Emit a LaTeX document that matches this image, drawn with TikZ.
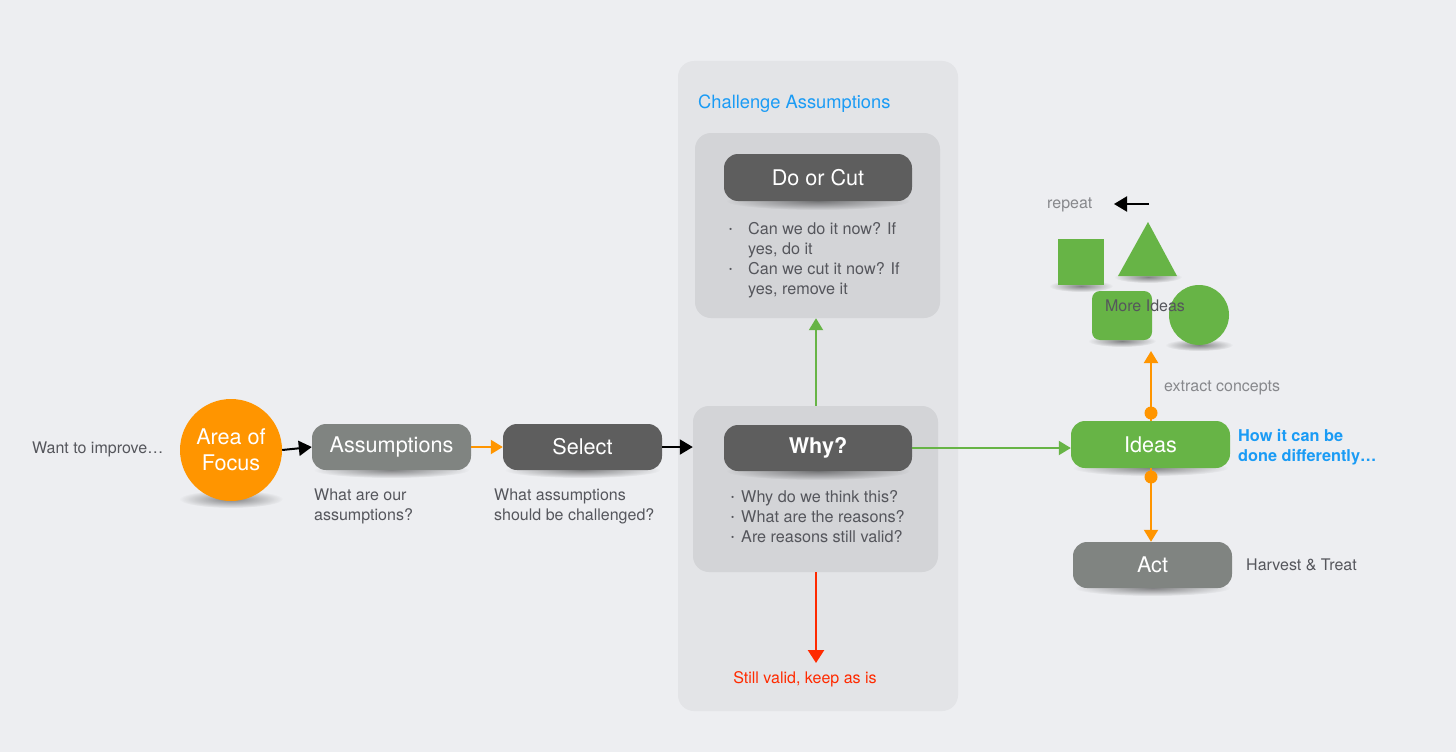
\documentclass[tikz,border=0pt]{standalone}
\usepackage{fontspec}
\setmainfont{TeX Gyre Heros}
\usetikzlibrary{arrows.meta,fadings}
\definecolor{bg}{RGB}{237,238,241}
\definecolor{panelc}{RGB}{227,228,231}
\definecolor{innerc}{RGB}{211,212,215}
\definecolor{darkn}{RGB}{94,94,94}
\definecolor{grayn}{RGB}{128,132,129}
\definecolor{grn}{RGB}{103,180,70}
\definecolor{orng}{RGB}{255,149,0}
\definecolor{redc}{RGB}{255,42,0}
\definecolor{bluec}{RGB}{26,155,245}
\definecolor{txt}{RGB}{85,86,92}
\definecolor{ltxt}{RGB}{135,136,140}
\newcommand\nfont{\fontsize{21.6}{25}\selectfont}
\newcommand\lfont{\fontsize{16}{19.5}\selectfont}
\newcommand\bfont{\fontsize{16.2}{20}\selectfont}
\newcommand\mybul{\raisebox{1.5pt}{\scalebox{0.55}{\textbullet}}}
\tikzfading[name=softshade, inner color=transparent!0, outer color=transparent!100]
\tikzset{
  shd/.style={fill=black, path fading=softshade, fill opacity=0.45},
  pill/.style={rounded corners=14pt, minimum width=159pt, minimum height=46pt, text=white, font=\nfont, inner sep=0pt},
  lbl/.style={text=txt, font=\lfont, inner sep=0pt, align=left},
  blk/.style={draw=black, line width=2pt, -{Triangle[length=13pt,width=15pt]}},
  org/.style={draw=orng, line width=2pt, -{Triangle[length=12pt,width=14pt]}},
  gar/.style={draw=grn, line width=2pt, -{Triangle[length=12pt,width=14pt]}},
  rar/.style={draw=redc, line width=2.5pt, -{Triangle[length=13pt,width=16pt]}},
  boxc/.style={rounded corners=16pt, inner sep=0pt},
}
\begin{document}
\begin{tikzpicture}[x=1pt,y=-1pt]
\useasboundingbox (0,0) rectangle (1456,752);
\fill[bg] (0,0) rectangle (1456,752);

% panel
\node[boxc, fill=panelc, minimum width=280pt, minimum height=650pt] (panel) at (818,386) {};
\node[anchor=base west, text=bluec, font=\fontsize{18.3}{20}\selectfont, inner sep=0pt] (ptitle) at (698,108) {Challenge Assumptions};
\node[boxc, fill=innerc, minimum width=245pt, minimum height=185pt] (topbox) at (817.5,225.5) {};
\node[boxc, fill=innerc, minimum width=245pt, minimum height=166pt] (botbox) at (815.5,489) {};

% soft shadows
\fill[shd] (818,201) ellipse (92 and 9);
\fill[shd] (818,471) ellipse (92 and 9);
\fill[shd] (231,499) ellipse (52 and 9);
\fill[shd] (391.5,470) ellipse (78 and 8);
\fill[shd] (582.5,470) ellipse (78 and 8);
\fill[shd] (1150.5,468) ellipse (78 and 8);
\fill[shd] (1152.5,588) ellipse (78 and 8);
\fill[shd] (1081,286) ellipse (32 and 6);
\fill[shd] (1148,277) ellipse (34 and 6);
\fill[shd] (1122,341) ellipse (34 and 6);
\fill[shd] (1199,345) ellipse (34 and 6);

% nodes
\node[pill, fill=darkn, minimum width=188pt, minimum height=47pt] (doc) at (818,177.5) {Do or Cut};
\node[pill, fill=darkn, minimum width=188pt, font=\nfont\bfseries] (why) at (818,448) {Why?};
\node[circle, fill=orng, minimum size=102pt, inner sep=0pt, text=white, font=\nfont, align=center] (focus) at (231,450) {Area of\\[1pt]Focus};
\node[pill, fill=grayn] (assum) at (391.5,447) {Assumptions};
\node[pill, fill=darkn] (select) at (582.5,447) {Select};
\node[pill, fill=grn, minimum height=47pt] (ideas) at (1150.5,444.5) {Ideas};
\node[pill, fill=grayn] (act) at (1152.5,565) {Act};

% bullets
\node[text=txt, font=\bfont, inner sep=0pt, anchor=base west] (docl) at (729,234)
 {\begin{tabular}[t]{@{}p{19pt}@{}l@{}}\mybul & Can we do it now? If\\ & yes, do it\\ \mybul & Can we cut it now? If\\ & yes, remove it\end{tabular}};
\node[text=txt, font=\bfont, inner sep=0pt, anchor=base west] (whyl) at (731,502)
 {\begin{tabular}[t]{@{}p{10pt}@{}l@{}}\mybul & Why do we think this?\\ \mybul & What are the reasons?\\ \mybul & Are reasons still valid?\end{tabular}};

% labels
\node[lbl, anchor=base west] (want) at (32,453) {Want to improve…};
\node[lbl, anchor=base west] (al) at (314,520) {What are our\\assumptions?};
\node[lbl, anchor=base west] (sl) at (494,520) {What assumptions\\should be challenged?};
\node[lbl, anchor=base, text=redc] (still) at (805,683) {Still valid, keep as is};
\node[lbl, anchor=base west, text=bluec, font=\fontsize{16.3}{20}\selectfont\bfseries] (how) at (1238,461) {How it can be\\done differently…};
\node[lbl, anchor=base west, text=ltxt] (ext) at (1164,391) {extract concepts};
\node[lbl, anchor=base west] (hv) at (1246,570) {Harvest \& Treat};
\node[lbl, anchor=base west, text=ltxt] (rep) at (1047,208) {repeat};

% more ideas shapes
\node[fill=grn, minimum size=46pt, inner sep=0pt] (sq) at (1081,262) {};
\fill[grn] (1148,222) -- (1177,276) -- (1118,276) -- cycle;
\node[fill=grn, rounded corners=8pt, minimum width=60pt, minimum height=49pt, inner sep=0pt] (rsq) at (1122,315.5) {};
\node[circle, fill=grn, minimum size=60pt, inner sep=0pt] (circ) at (1199,315) {};
\node[lbl, anchor=base] (more) at (1145,311) {More Ideas};

% connectors
\draw[blk] (focus.east) -- (assum.west);
\draw[org] (assum.east) -- (select.west);
\draw[blk] (select.east) -- (select.east -| botbox.west);
\draw[gar] (botbox.north -| 816,0) -- (topbox.south -| 816,0);
\coordinate (redend) at (816,663);
\draw[rar] (botbox.south -| redend) -- (redend);
\draw[gar] (why.east) -- (why.east -| ideas.west);
\coordinate (dotA) at (1151,413);
\coordinate (miend) at (1151,351);
\draw[org] (ideas.north -| dotA) -- (miend);
\fill[orng] (dotA) circle (6.5pt);
\coordinate (dotB) at (1151,477);
\draw[org] (ideas.south -| dotB) -- (dotB |- act.north);
\fill[orng] (dotB) circle (6.5pt);
\coordinate (repA) at (1149,204);
\coordinate (repB) at (1114,204);
\draw[blk] (repA) -- (repB);
\end{tikzpicture}
\end{document}
